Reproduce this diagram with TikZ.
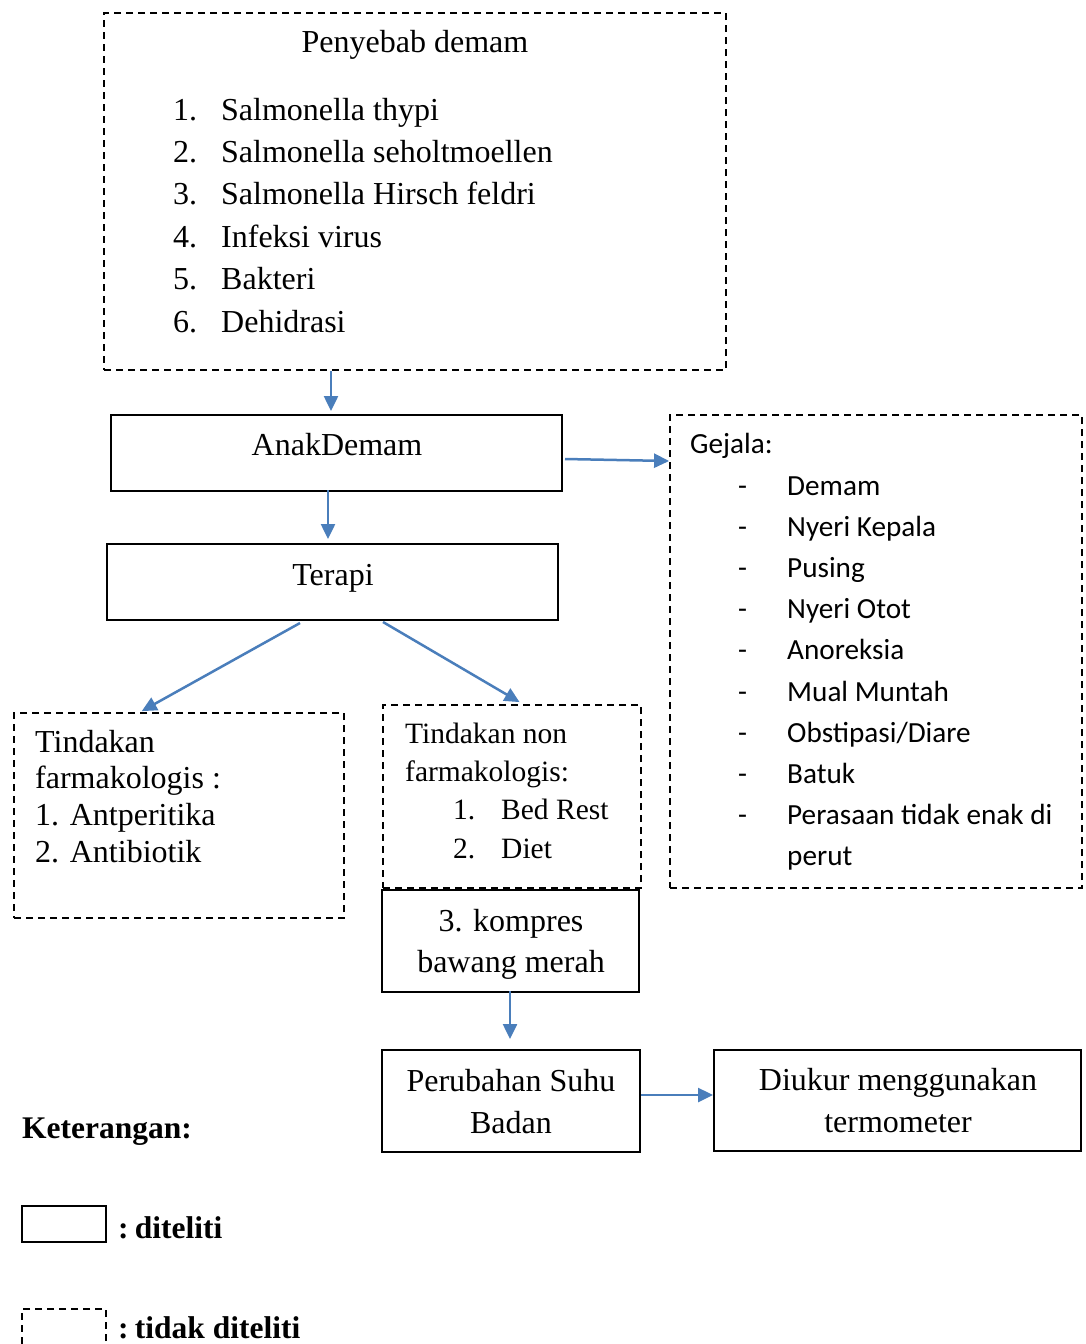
\documentclass[tikz,border=0pt]{standalone}
\usepackage{fontspec}
\setmainfont{Liberation Serif}
\newfontfamily\calfont{Carlito}
\usetikzlibrary{arrows.meta}
\definecolor{arrblue}{RGB}{74,126,187}
\tikzset{
  solidbox/.style={draw=black,line width=2pt,rectangle,inner sep=0pt,anchor=center},
  dashbox/.style={draw=black,line width=1.8pt,dash pattern=on 7pt off 5pt,rectangle,inner sep=0pt,anchor=center},
  arr/.style={draw=arrblue,line width=2.5pt,-{Triangle[length=15pt,width=14pt]}},
  tm/.style={font=\fontsize{32}{42}\selectfont,inner sep=0pt,anchor=base west},
  tms/.style={font=\fontsize{29.5}{38}\selectfont,inner sep=0pt,anchor=base west},
  tmc/.style={font=\fontsize{32}{42}\selectfont,inner sep=0pt,anchor=base},
  tb/.style={font=\fontsize{31.5}{42}\selectfont\bfseries,inner sep=0pt,anchor=base west},
  cal/.style={font=\calfont\fontsize{29.2}{40}\selectfont,inner sep=0pt,anchor=base west}
}
\begin{document}
\begin{tikzpicture}[x=1pt,y=-1pt]
\useasboundingbox (0,0) rectangle (1086,1344);
\fill[white] (0,0) rectangle (1086,1344);
% boxes
\node[dashbox,minimum width=622pt,minimum height=357pt] (p1) at (415,191.5) {};
\node[solidbox,minimum width=451pt,minimum height=76pt] (anak) at (336.5,453) {};
\node[solidbox,minimum width=451pt,minimum height=76pt] (terapi) at (332.5,582) {};
\node[dashbox,minimum width=412pt,minimum height=473pt] (gejala) at (876,651.5) {};
\node[dashbox,minimum width=330pt,minimum height=205pt] (farm) at (179,815.5) {};
\node[dashbox,minimum width=258pt,minimum height=183pt] (nonf) at (512,796.5) {};
\node[solidbox,minimum width=257pt,minimum height=102pt] (kompres) at (510.5,941) {};
\node[solidbox,minimum width=258pt,minimum height=102pt] (suhu) at (511,1101) {};
\node[solidbox,minimum width=367pt,minimum height=101pt] (ukur) at (897.5,1100.5) {};
\node[solidbox,minimum width=84pt,minimum height=36pt] (leg1) at (64,1224) {};
\node[dashbox,minimum width=84pt,minimum height=80pt] (leg2) at (64,1349) {};
% texts: Penyebab
\node[tmc] (t0) at (415,52) {Penyebab demam};
\node[tm] (n1) at (173,120) {1.};
\node[tm] (i1) at (221,120) {Salmonella thypi};
\node[tm] (n2) at (173,162) {2.};
\node[tm] (i2) at (221,162) {Salmonella seholtmoellen};
\node[tm] (n3) at (173,204) {3.};
\node[tm] (i3) at (221,204) {Salmonella Hirsch feldri};
\node[tm] (n4) at (173,247) {4.};
\node[tm] (i4) at (221,247) {Infeksi virus};
\node[tm] (n5) at (173,289) {5.};
\node[tm] (i5) at (221,289) {Bakteri};
\node[tm] (n6) at (173,332) {6.};
\node[tm] (i6) at (221,332) {Dehidrasi};
% Anak / Terapi
\node[tmc] (tanak) at (337,455) {AnakDemam};
\node[tmc] (tterapi) at (333,585) {Terapi};
% Gejala
\node[cal] (tg) at (690,453) {Gejala:};
\foreach \y/\t [count=\k] in {495/{Demam},536/{Nyeri Kepala},577/{Pusing},618/{Nyeri Otot},659/{Anoreksia},701/{Mual Muntah},742/{Obstipasi/Diare},783/{Batuk},824/{Perasaan tidak enak di}}{
  \node[cal] (gd\k) at (738,\y) {-};
  \node[cal] (gi\k) at (787,\y) {\t};
}
\node[cal] (gi10) at (787,865) {perut};
% farmakologis
\node[tm] (f1) at (35,752) {Tindakan};
\node[tm] (f2) at (35,788) {farmakologis :};
\node[tm] (f3) at (35,825) {1. Antperitika};
\node[tm] (f4) at (35,862) {2. Antibiotik};
% non farmakologis
\node[tms] (nf1) at (405,743) {Tindakan non};
\node[tms] (nf2) at (405,781) {farmakologis:};
\node[tms] (nfn1) at (453,819) {1.};
\node[tms] (nfi1) at (501,819) {Bed Rest};
\node[tms] (nfn2) at (453,858) {2.};
\node[tms] (nfi2) at (501,858) {Diet};
% kompres
\node[tmc] (k1) at (511,931) {3. kompres};
\node[tmc] (k2) at (511,972) {bawang merah};
% suhu
\node[tmc] (s1) at (511,1091) {Perubahan Suhu};
\node[tmc] (s2) at (511,1133) {Badan};
% ukur
\node[tmc] (u1) at (898,1090) {Diukur menggunakan};
\node[tmc] (u2) at (898,1132) {termometer};
% legend
\node[tb] (ket) at (22,1138) {Keterangan:};
\node[tb] (l1) at (118,1238) {:\hspace{0.2em}diteliti};
\node[tb] (l2) at (118,1338) {:\hspace{0.2em}tidak diteliti};
% arrows
\draw[arr,shorten >=3pt] ([xshift=-84pt]p1.south) -- ([xshift=-5.5pt]anak.north);
\draw[arr,shorten >=4pt] ([xshift=-8.5pt,yshift=2pt]anak.south) -- ([xshift=-4.5pt]terapi.north);
\draw[arr] ([xshift=2pt,yshift=-6pt]anak.east) -- ([yshift=190.5pt]gejala.west);
\draw[arr,shorten >=2pt] ([xshift=-32.5pt,yshift=-2pt]terapi.south) -- ([xshift=-39pt]farm.north);
\draw[arr,shorten >=4pt] ([xshift=50.5pt,yshift=-1pt]terapi.south) -- ([xshift=11pt]nonf.north);
\draw[arr,shorten >=10pt] ([xshift=-0.5pt,yshift=2pt]kompres.south) -- ([xshift=-1pt]suhu.north);
\draw[arr] ([yshift=6pt]suhu.east) -- ([yshift=5.5pt]ukur.west);
\end{tikzpicture}
\end{document}
